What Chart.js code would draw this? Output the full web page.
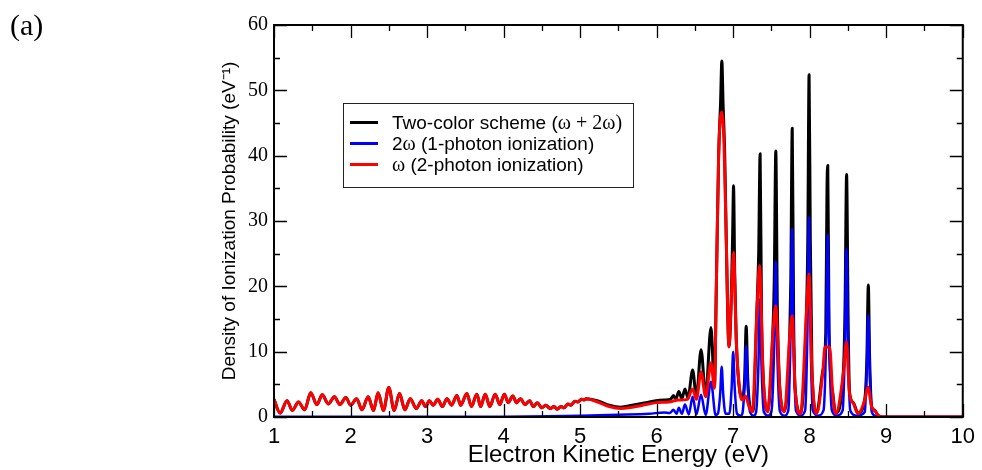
<!DOCTYPE html>
<html>
<head>
<meta charset="utf-8">
<script src="https://cdn.jsdelivr.net/npm/chart.js@4.4.1/dist/chart.umd.min.js"></script>
<style>
    html, body { margin: 0; padding: 0; background: #fff; }
    #wrap { width: 982px; height: 470px; }
</style>
</head>
<body>
<div id="wrap"><canvas id="res" width="982" height="470"></canvas></div>
<script>
// energy (eV), density (eV^-1)
// low-energy ripples: black and red lie on top of each other here
var lowRipple = [
    [1.00,2.7],[1.08,0.6],[1.17,2.5],[1.24,1.0],[1.32,2.3],[1.40,1.1],[1.48,3.7],[1.56,1.9],
    [1.63,3.4],[1.71,2.0],[1.79,3.1],[1.86,1.9],[1.94,3.0],[2.00,1.8],[2.08,2.8],[2.15,1.1],
    [2.23,3.1],[2.30,1.0],[2.36,3.7],[2.43,1.0],[2.50,4.5],[2.57,1.0],[2.64,3.6],[2.71,1.1],
    [2.78,2.8],[2.86,1.3],[2.93,2.5],[2.98,1.6],[3.03,2.5],[3.08,1.8],[3.14,2.7],[3.20,1.6],
    [3.26,2.8],[3.32,1.8],[3.39,3.3],[3.44,1.8],[3.52,3.6],[3.58,1.6],[3.65,3.5],[3.70,1.6],
    [3.76,3.5],[3.82,1.6],[3.89,3.5],[3.95,1.9],[4.01,3.5],[4.06,2.2],[4.12,3.2],[4.17,2.2],
    [4.22,2.8],[4.28,1.9],[4.34,2.5],[4.39,1.6],[4.44,2.2],[4.50,1.4],[4.55,1.8],[4.61,1.3],
    [4.66,1.6],[4.70,1.2],[4.75,1.6],[4.79,1.4],[4.84,2.0],[4.88,1.8],[4.93,2.4],[4.97,2.3],
    [5.02,2.7],[5.05,2.6],[5.08,2.8]
];

// omega (2-photon ionization), above 5.1 eV
var redHigh = [
    [5.25,2.2],[5.38,1.6],[5.53,1.3],[5.68,1.5],[5.86,1.9],[5.99,2.2],[6.16,2.3],[6.29,2.6],
    [6.40,2.7],[6.47,4.3],[6.52,2.7],[6.58,6.9],[6.64,3.1],[6.71,8.3],[6.755,4.4],[6.78,20],
    [6.81,40],[6.85,46.7],[6.88,42],[6.91,27],[6.945,10.7],[6.975,18],[7.005,25.2],[7.04,11.8],
    [7.09,3.6],[7.12,2.6],[7.16,3.2],[7.21,1.5],[7.25,0.8],[7.31,16],[7.345,23.2],[7.39,6.7],
    [7.45,0.8],[7.52,13],[7.555,17.0],[7.61,4.1],[7.67,0.8],[7.74,12.5],[7.77,15.5],[7.81,4.1],
    [7.88,0.5],[7.96,16.5],[7.99,21.9],[8.03,6.7],[8.09,0.5],[8.17,6.7],[8.20,10.7],[8.26,10.7],
    [8.30,3.6],[8.34,0.5],[8.44,6.7],[8.48,11.5],[8.52,3.6],[8.57,2.1],[8.63,0.5],[8.72,2.6],
    [8.76,4.6],[8.81,1.5],[8.85,1.0],[8.89,0.3],[8.95,0],[10,0]
];

// two-colour scheme, above 5.1 eV
var blackHigh = [
    [5.25,2.4],[5.38,1.8],[5.53,1.5],[5.68,1.8],[5.86,2.2],[5.99,2.5],[6.10,2.6],[6.18,2.7],
    [6.22,3.3],[6.25,2.7],[6.29,3.9],[6.33,2.8],[6.37,4.3],[6.41,2.9],[6.47,7.2],[6.52,3.0],
    [6.58,10.3],[6.64,3.3],[6.71,13.7],[6.755,4.6],[6.78,20],[6.81,40],[6.835,48],[6.852,54.5],
    [6.868,48],[6.89,40],[6.91,27],[6.945,10.8],[6.975,18],[6.993,28],[7.005,35.4],[7.02,22],
    [7.04,12],[7.09,3.7],[7.12,3.0],[7.15,6],[7.17,13.9],[7.19,6],[7.22,1.6],[7.26,0.9],
    [7.31,16.5],[7.333,25],[7.352,40.3],[7.37,16],[7.39,6.8],[7.45,0.9],[7.52,13.5],[7.537,21],
    [7.557,40.7],[7.577,17],[7.61,4.3],[7.67,0.9],[7.74,13],[7.753,21],[7.772,44.2],[7.79,15],
    [7.81,4.3],[7.88,0.6],[7.96,17],[7.975,27],[7.992,52.4],[8.008,27],[8.03,7],[8.09,0.6],
    [8.17,7],[8.21,13],[8.226,35],[8.236,38.5],[8.253,13],[8.30,3.8],[8.34,0.6],[8.44,7],
    [8.462,17],[8.482,37.1],[8.502,15],[8.52,3.8],[8.57,2.2],[8.63,0.6],[8.72,2.8],[8.747,9],
    [8.766,20.2],[8.783,9],[8.81,1.6],[8.85,1.0],[8.89,0.3],[8.95,0],[10,0]
];

// 2 omega (1-photon ionization)
var blueAll = [
    [1.00,0.02],[4.00,0.05],[4.60,0.12],[5.00,0.2],[5.50,0.35],[5.90,0.5],[6.10,0.7],[6.17,0.6],
    [6.22,1.1],[6.26,0.5],[6.29,1.4],[6.33,0.5],[6.37,1.9],[6.42,0.4],[6.47,3.1],[6.52,0.4],
    [6.58,3.4],[6.64,0.3],[6.71,5.4],[6.77,0.3],[6.80,0.5],[6.83,3.5],[6.85,7.7],[6.87,3.5],
    [6.90,0.5],[6.95,0.5],[6.98,4.5],[7.00,10],[7.02,4.5],[7.05,0.5],[7.10,0.2],[7.12,0.5],
    [7.15,5],[7.17,10.9],[7.19,5],[7.22,0.8],[7.27,0.2],[7.30,0.8],[7.33,8],[7.35,18.1],
    [7.37,8],[7.40,0.8],[7.46,0.2],[7.50,0.9],[7.535,10.5],[7.555,23.8],[7.575,10.5],[7.61,0.9],
    [7.67,0.2],[7.72,1.0],[7.75,12.5],[7.77,28.8],[7.79,12.5],[7.82,1.0],[7.88,0.2],[7.94,1.0],
    [7.97,13],[7.99,30.6],[8.01,13],[8.04,1.0],[8.11,0.2],[8.18,1.0],[8.215,12],[8.235,27.9],
    [8.255,12],[8.29,1.0],[8.35,0.2],[8.43,1.0],[8.46,11],[8.48,25.7],[8.50,11],[8.53,1.0],
    [8.62,0.2],[8.72,0.8],[8.745,7],[8.765,15.6],[8.785,7],[8.81,0.8],[8.87,0.1],[8.95,0],[10,0]
];

var xTicks = [1, 2, 3, 4, 5, 6, 7, 8, 9, 10];
var xMinor = [1.5, 2.5, 3.5, 4.5, 5.5, 6.5, 7.5, 8.5, 9.5];
var yTicks = [0, 10, 20, 30, 40, 50, 60];
var yMinor = [5, 15, 25, 35, 45, 55];

var seriesNames = ["Two-color scheme (ω + 2ω)", "2ω (1-photon ionization)", "ω (2-photon ionization)"];
var seriesColors = ["#000000", "#0000ff", "#ff0000"];

var SANS = "'Liberation Sans', Arial, sans-serif";
var SERIF = "'Liberation Serif', 'Times New Roman', serif";

function pts(arr) {
    return arr.map(function (p) { return {x: p[0], y: p[1]}; });
}

// frame, inward ticks on all four sides, and the "(a)" panel tag
var frameTicks = {
    id: 'frameTicks',
    afterDraw: function (chart) {
        var ctx = chart.ctx, a = chart.chartArea;
        var sx = chart.scales.x, sy = chart.scales.y;
        ctx.save();
        ctx.strokeStyle = '#000';
        ctx.lineWidth = 1.3;
        ctx.beginPath();
        function tx(v, len) {
            var px = Math.round(sx.getPixelForValue(v)) + 0.5;
            ctx.moveTo(px, a.bottom); ctx.lineTo(px, a.bottom - len);
            ctx.moveTo(px, a.top); ctx.lineTo(px, a.top + len);
        }
        function ty(v, len) {
            var py = Math.round(sy.getPixelForValue(v)) + 0.5;
            ctx.moveTo(a.left, py); ctx.lineTo(a.left + len, py);
            ctx.moveTo(a.right, py); ctx.lineTo(a.right - len, py);
        }
        xTicks.forEach(function (v) { tx(v, 13); });
        xMinor.forEach(function (v) { tx(v, 6); });
        yTicks.forEach(function (v) { ty(v, 13); });
        yMinor.forEach(function (v) { ty(v, 6); });
        ctx.stroke();
        ctx.lineWidth = 2;
        ctx.strokeRect(a.left, a.top, a.right - a.left, a.bottom - a.top);

        ctx.fillStyle = '#000';
        ctx.font = "30px " + SERIF;
        ctx.textBaseline = 'alphabetic';
        ctx.textAlign = 'left';
        ctx.fillText("(a)", 10, 35);
        ctx.restore();
    }
};

// boxed legend inside the plot, Grace style
var boxLegend = {
    id: 'boxLegend',
    afterDatasetsDraw: function (chart) {
        var ctx = chart.ctx;
        var bx = 343, by = 103, bw = 290, bh = 84;
        ctx.save();
        ctx.fillStyle = '#fff';
        ctx.fillRect(bx, by, bw, bh);
        ctx.strokeStyle = '#222';
        ctx.lineWidth = 1;
        ctx.strokeRect(bx + 0.5, by + 0.5, bw, bh);

        var rows = [
            [[SANS, "Two-color scheme ("], [SERIF, "ω + 2ω)"]],
            [[SANS, "2"], [SERIF, "ω"], [SANS, " (1-photon ionization)"]],
            [[SERIF, "ω"], [SANS, " (2-photon ionization)"]]
        ];
        var rowY = [122.5, 143.5, 164.5];
        ctx.textBaseline = 'middle';
        ctx.textAlign = 'left';
        for (var i = 0; i < rows.length; i++) {
            ctx.strokeStyle = seriesColors[i];
            ctx.lineWidth = 3;
            ctx.beginPath();
            ctx.moveTo(350, rowY[i]);
            ctx.lineTo(378, rowY[i]);
            ctx.stroke();
            var x = 392;
            ctx.fillStyle = '#000';
            rows[i].forEach(function (seg) {
                ctx.font = (seg[0] === SERIF ? "20px " : "19px ") + seg[0];
                ctx.fillText(seg[1], x, rowY[i] + 1);
                x += ctx.measureText(seg[1]).width;
            });
        }
        ctx.restore();
    }
};

var ctx = document.getElementById("res").getContext('2d');

var options = {
    type: 'line',
    data: {
        datasets: [{
            label: seriesNames[0],
            data: pts(lowRipple.concat(blackHigh)),
            borderColor: seriesColors[0],
            borderWidth: 3,
            order: 3
        }, {
            label: seriesNames[1],
            data: pts(blueAll),
            borderColor: seriesColors[1],
            borderWidth: 2.5,
            order: 2
        }, {
            label: seriesNames[2],
            data: pts(lowRipple.concat(redHigh)),
            borderColor: seriesColors[2],
            borderWidth: 3,
            order: 1
        }]
    },
    options: {
        responsive: false,
        animation: false,
        devicePixelRatio: 1,
        layout: { padding: { left: 218, top: 25, right: 15, bottom: 0 } },
        elements: {
            point: { radius: 0 },
            line: { cubicInterpolationMode: 'monotone', fill: false, borderJoinStyle: 'round' }
        },
        scales: {
            x: {
                type: 'linear',
                min: 1, max: 10,
                afterBuildTicks: function (s) { s.ticks = xTicks.map(function (v) { return {value: v}; }); },
                afterFit: function (s) { s.height = 53; },
                ticks: { color: '#000', padding: 7, maxRotation: 0, font: { family: SANS, size: 22 } },
                grid: { display: false, drawTicks: false },
                border: { display: false },
                title: {
                    display: true,
                    text: 'Electron Kinetic Energy (eV)',
                    color: '#000',
                    padding: 0,
                    font: { family: SANS, size: 24 }
                }
            },
            y: {
                type: 'linear',
                min: 0, max: 60,
                afterBuildTicks: function (s) { s.ticks = yTicks.map(function (v) { return {value: v}; }); },
                afterFit: function (s) { s.width = 56; },
                ticks: { color: '#000', padding: 6, font: { family: SERIF, size: 20 } },
                grid: { display: false, drawTicks: false },
                border: { display: false },
                title: {
                    display: true,
                    text: 'Density of Ionization Probability (eV⁻¹)',
                    color: '#000',
                    padding: 0,
                    font: { family: SANS, size: 19 }
                }
            }
        },
        plugins: {
            legend: { display: false },
            tooltip: { enabled: false }
        }
    },
    plugins: [boxLegend, frameTicks]
};

var myChart = new Chart(ctx, options);
</script>
</body>
</html>
